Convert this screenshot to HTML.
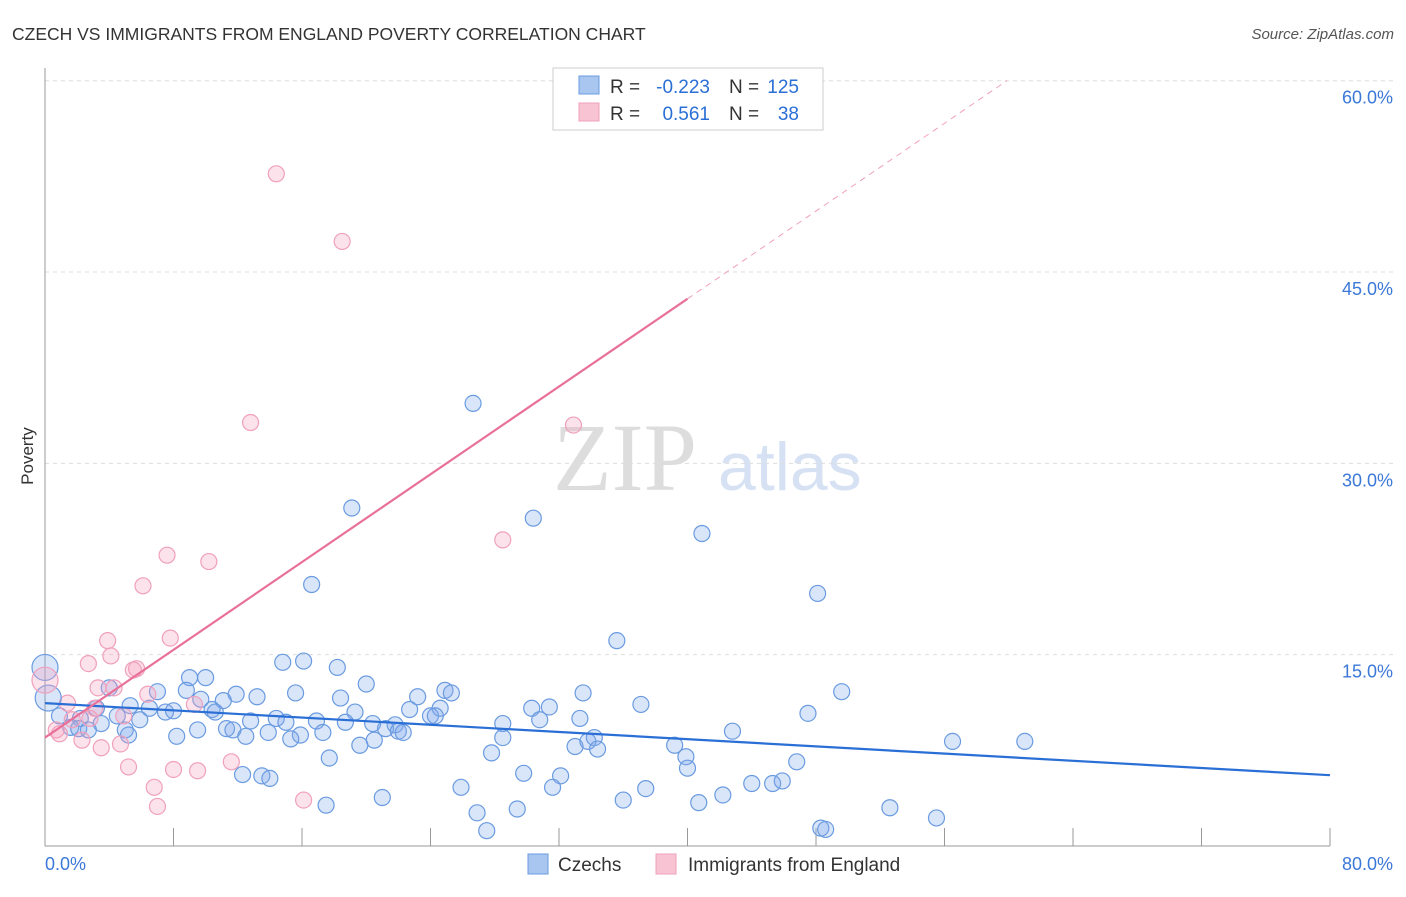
<!DOCTYPE html>
<html><head><meta charset="utf-8"><style>
body{margin:0;background:#fff;font-family:"Liberation Sans",sans-serif}
svg text{font-family:"Liberation Sans",sans-serif}
</style></head><body>
<svg id="chart" width="1406" height="892" viewBox="0 0 1406 892" xmlns="http://www.w3.org/2000/svg">
<text x="12" y="40" font-size="17.5" fill="#333">CZECH VS IMMIGRANTS FROM ENGLAND POVERTY CORRELATION CHART</text>
<text x="1394" y="39" font-size="15" fill="#555" font-style="italic" text-anchor="end">Source: ZipAtlas.com</text>
<text x="553" y="490" font-size="96" fill="#ddd" font-family="Liberation Serif" style="font-family:'Liberation Serif',serif">ZIP</text>
<text x="718" y="490" font-size="68" fill="#d6e2f4">atlas</text>
<text x="33" y="456" font-size="17" fill="#333" text-anchor="middle" transform="rotate(-90 33 456)">Poverty</text>
<g id="grid"></g><g id="axes"></g><g id="marks"></g>
<g>
<rect x="553" y="68" width="270" height="62" fill="#fff" stroke="#ccc"/>
<rect x="579" y="76" width="20" height="18" fill="#a9c6f0" stroke="#6a9be0"/>
<text x="610" y="93" font-size="19" fill="#333">R =</text>
<text x="710" y="93" font-size="19" fill="#2a6fd6" text-anchor="end">-0.223</text>
<text x="729" y="93" font-size="19" fill="#333">N =</text>
<text x="799" y="93" font-size="19" fill="#2a6fd6" text-anchor="end">125</text>
<rect x="579" y="103" width="20" height="18" fill="#f8c4d4" stroke="#f0a0bb"/>
<text x="610" y="120" font-size="19" fill="#333">R =</text>
<text x="710" y="120" font-size="19" fill="#2a6fd6" text-anchor="end">0.561</text>
<text x="729" y="120" font-size="19" fill="#333">N =</text>
<text x="799" y="120" font-size="19" fill="#2a6fd6" text-anchor="end">38</text>
</g>
<g>
<rect x="528" y="854" width="20" height="20" fill="#a9c6f0" stroke="#6a9be0"/>
<text x="558" y="871" font-size="19" fill="#333">Czechs</text>
<rect x="656" y="854" width="20" height="20" fill="#f8c4d4" stroke="#f0a0bb"/>
<text x="688" y="871" font-size="19" fill="#333">Immigrants from England</text>
</g>
</svg>
<script>
const xTicks=[0,8,16,24,32,40,48,56,64,72,80];
const yTicks=[15,30,45,60];
const yTickLabels=["15.0%","30.0%","45.0%","60.0%"];
const czX=[26.65,19.1,30.4,40.9,48.1,16.6,35.6,14.8,16.1,18.2,9.0,10.0,20.0,8.8,4.0,7.0,11.9,13.2,15.6,18.4,23.2,24.9,25.3,33.5,49.6,37.1,11.1,9.7,3.2,5.3,6.5,7.5,8.0,10.4,10.6,19.3,22.7,24.6,30.3,31.4,47.5,0.9,2.2,4.5,5.9,12.8,14.4,15.0,16.9,18.7,20.4,21.8,24.0,24.3,28.5,30.8,33.3,3.5,1.6,2.1,2.7,5.0,9.5,11.3,11.7,13.9,15.9,17.3,21.2,22.0,22.3,5.2,8.2,12.5,15.3,20.5,28.5,34.2,42.8,19.6,33.0,33.8,34.4,39.2,56.5,61.0,27.8,39.9,17.7,46.8,40.0,29.8,32.1,12.3,13.5,14.0,44.0,45.3,45.9,31.6,25.9,37.4,42.2,21.0,36.0,17.5,40.7,29.4,26.9,52.6,55.5,27.5,48.3,48.6];
const czY=[34.7,26.5,25.7,24.5,19.8,20.5,16.1,14.4,14.5,14.0,13.2,13.2,12.7,12.2,12.4,12.1,11.9,11.7,12.0,11.6,11.7,12.2,12.0,12.0,12.1,11.1,11.4,11.5,10.8,11.0,10.8,10.5,10.6,10.7,10.5,10.5,10.7,10.8,10.8,10.9,10.4,10.2,10.0,10.2,9.9,9.8,10.0,9.7,9.8,9.7,9.6,9.5,10.2,10.2,9.6,9.9,10.0,9.6,9.3,9.2,9.1,9.1,9.1,9.2,9.1,8.9,8.7,8.9,9.2,9.0,8.9,8.7,8.6,8.6,8.4,8.3,8.5,8.5,9.0,7.9,7.8,8.2,7.6,7.9,8.2,8.2,7.3,7.0,6.9,6.6,6.1,5.7,5.5,5.6,5.5,5.3,4.9,4.9,5.1,4.6,4.6,4.5,4.0,3.8,3.6,3.2,3.4,2.9,2.6,3.0,2.2,1.2,1.4,1.3];
const enX=[14.4,18.5,12.8,32.9,28.5,7.6,10.2,6.1,3.9,7.8,4.1,2.7,5.7,5.5,3.3,4.3,6.4,1.4,3.1,4.9,1.7,2.8,0.7,0.9,2.3,3.5,4.7,11.6,5.2,8.0,9.5,6.8,7.0,16.1,9.3];
const enY=[52.7,47.4,33.2,33.0,24.0,22.8,22.3,20.4,16.1,16.3,14.9,14.3,13.9,13.8,12.4,12.4,11.9,11.2,10.8,10.2,9.9,10.0,9.1,8.8,8.3,7.7,8.0,6.6,6.2,6.0,5.9,4.6,3.1,3.6,11.1];
const bigX=[0,0.2,0];const bigY=[14.0,11.6,13.0];const bigS=["cz","cz","en"];
const czLine=[11.2,5.55];const enLine=[8.5,0.86];
const X=v=>45+v*16.0625, Y=v=>846-v*12.755;
const NS="http://www.w3.org/2000/svg";
function mk(t,a,p){const e=document.createElementNS(NS,t);for(const k in a)e.setAttribute(k,a[k]);p.appendChild(e);return e;}
const grid=document.getElementById('grid'),axes=document.getElementById('axes'),marks=document.getElementById('marks');
yTicks.forEach((t,i)=>{const l=mk('line',{x1:45,x2:1394,y1:Y(t),y2:Y(t),stroke:'#ddd','stroke-dasharray':'4 4'},grid);


const tx=mk('text',{x:1393,y:Y(t)+23,'font-size':18,fill:'#3b78d8','text-anchor':'end'},axes);tx.textContent=yTickLabels[i];

});
const ax=mk('line',{x1:45,x2:1330,y1:846,y2:846,stroke:'#999'},axes);


const ay=mk('line',{x1:45,x2:45,y1:68,y2:846,stroke:'#999'},axes);


xTicks.forEach(t=>{const l=mk('line',{x1:X(t),x2:X(t),y1:828,y2:846,stroke:'#999'},axes);

});
let t0=mk('text',{x:45,y:870,'font-size':18,fill:'#3b78d8'},axes);t0.textContent="0.0%";


let t1=mk('text',{x:1393,y:870,'font-size':18,fill:'#3b78d8','text-anchor':'end'},axes);t1.textContent="80.0%";


function dot(x,y,s,r){const c=mk('circle',{cx:X(x),cy:Y(y),r:r,fill:s=='cz'?'rgba(130,170,235,0.3)':'rgba(245,160,190,0.3)',stroke:s=='cz'?'#6a9be0':'#f0a0bb','stroke-width':1.2},marks);

}
czX.forEach((x,i)=>dot(x,czY[i],'cz',8));
enX.forEach((x,i)=>dot(x,enY[i],'en',8));
bigX.forEach((x,i)=>dot(x,bigY[i],bigS[i],13));
const bl=mk('line',{x1:X(0),y1:Y(czLine[0]),x2:X(80),y2:Y(czLine[1]),stroke:'#2a6fd6','stroke-width':2.2},marks);


const pl=mk('line',{x1:X(0),y1:Y(enLine[0]),x2:X(40),y2:Y(enLine[0]+enLine[1]*40),stroke:'#e8709a','stroke-width':2.2},marks);


const xe=(60-enLine[0])/enLine[1];
const pd=mk('line',{x1:X(40),y1:Y(enLine[0]+enLine[1]*40),x2:X(xe),y2:Y(60),stroke:'#f0a0bb','stroke-width':1,'stroke-dasharray':'6 5'},marks);


</script>
</body></html>
